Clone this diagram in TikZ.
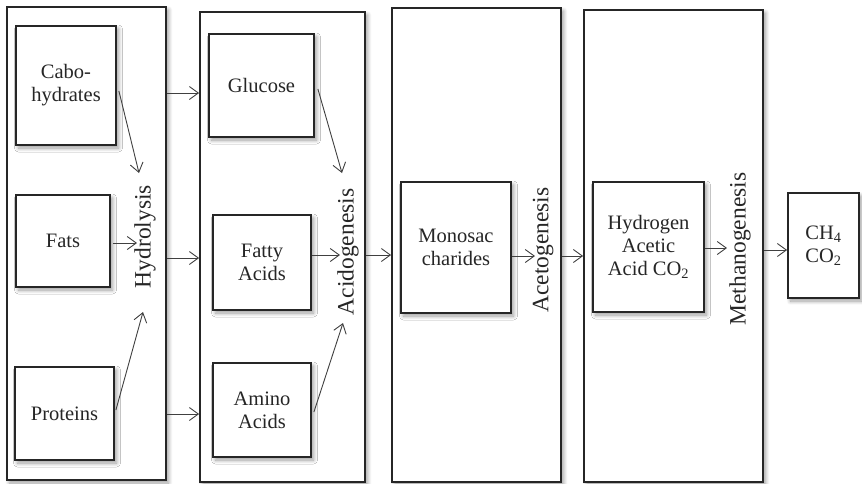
\documentclass[tikz,border=0pt]{standalone}
\usepackage{fontspec}
\setmainfont{Liberation Serif}
\usetikzlibrary{arrows.meta,calc,shadows.blur}
\begin{document}
\begin{tikzpicture}[x=1pt,y=-1pt,
  shd/.style={blur shadow={shadow blur steps=8, shadow xshift=2.5pt, shadow yshift=-3pt, shadow opacity=40, shadow blur radius=4pt}},
  obox/.style={draw=black!85, line width=1.8pt, fill=white, inner sep=0pt, shd},
  ibox/.style={draw=black!85, line width=1.8pt, fill=white, inner sep=0pt, align=center, shd,
    font=\fontsize{20.5}{23}\selectfont, text=black!85},
  vlab/.style={rotate=90, inner sep=0pt, font=\fontsize{23.5}{26}\selectfont, text=black!85},
  arr/.style={draw=black!75, line width=0.9pt, -{Straight Barb[length=9pt,width=13pt,line width=0.9pt]}}]
\useasboundingbox (0,0) rectangle (862,483);
% outer stage boxes
\node[obox, minimum width=159pt, minimum height=473pt] (b1) at (86.5,243.5) {};
\node[obox, minimum width=165pt, minimum height=470pt] (b2) at (282.5,247) {};
\node[obox, minimum width=169pt, minimum height=474pt] (b3) at (476.5,245) {};
\node[obox, minimum width=179pt, minimum height=472pt] (b4) at (673.5,246) {};
% inner boxes
\node[ibox, minimum width=100pt, minimum height=119pt] (carb) at (66,85.5) {Cabo-\\hydrates};
\node[ibox, minimum width=94pt, minimum height=92pt] (fats) at (63,241) {Fats};
\node[ibox, minimum width=99pt, minimum height=93pt] (prot) at (64.5,413.5) {Proteins};
\node[ibox, minimum width=105pt, minimum height=103pt] (gluc) at (261.5,85.5) {Glucose};
\node[ibox, minimum width=98pt, minimum height=95pt] (fatty) at (262,262.5) {Fatty\\Acids};
\node[ibox, minimum width=98pt, minimum height=94pt] (amino) at (262,410) {Amino\\Acids};
\node[ibox, minimum width=110pt, minimum height=131pt] (mono) at (456,247.5) {Monosac\\charides};
\node[ibox, minimum width=111pt, minimum height=130pt] (hydro) at (648.5,247) {Hydrogen\\Acetic\\Acid CO\textsubscript{2}};
\node[ibox, minimum width=71pt, minimum height=105pt] (ch4) at (823.5,245.5) {CH\textsubscript{4}\\CO\textsubscript{2}};
% vertical stage labels
\node[vlab] (lhyd) at (145,236.5) {Hydrolysis};
\node[vlab] (lacid) at (348,252) {Acidogenesis};
\node[vlab] (lacet) at (543,250) {Acetogenesis};
\node[vlab] (lmeth) at (740,249) {Methanogenesis};
% arrows in Hydrolysis
\draw[arr] ($(carb.east)+(2,5.5)$) -- ($(lhyd.center)+(-6,-63.5)$);
\draw[arr] ($(fats.east)+(2,2)$) -- ($(lhyd.center)+(-8,6.5)$);
\draw[arr] ($(prot.east)+(1,-3.5)$) -- ($(lhyd.center)+(-2,75.5)$);
% between box 1 and box 2
\draw[arr] ($(b1.east)+(0,-150.5)$) coordinate (a1) -- (a1 -| b2.west);
\draw[arr] ($(b1.east)+(0,14.5)$) coordinate (a2) -- (a2 -| b2.west);
\draw[arr] ($(b1.east)+(0,170.5)$) coordinate (a3) -- (a3 -| b2.west);
% arrows in Acidogenesis
\draw[arr] ($(gluc.east)+(3,3.5)$) -- ($(lacid.center)+(-6,-79)$);
\draw[arr] ($(fatty.east)+(0,-7.5)$) -- ($(lacid.center)+(-8,3)$);
\draw[arr] ($(amino.east)+(2,2)$) -- ($(lacid.center)+(-5,71)$);
% box 2 to box 3
\draw[arr] ($(b2.east)+(0,8)$) coordinate (a4) -- (a4 -| b3.west);
% Acetogenesis
\draw[arr] ($(mono.east)+(0,8.5)$) -- ($(lacet.center)+(-8,6)$);
\draw[arr] ($(b3.east)+(0,11)$) coordinate (a5) -- (a5 -| b4.west);
% Methanogenesis
\draw[arr] ($(hydro.east)+(0,1)$) -- ($(lmeth.center)+(-13,-1)$);
\draw[arr] ($(b4.east)+(0,4)$) coordinate (a6) -- (a6 -| ch4.west);
\end{tikzpicture}
\end{document}
